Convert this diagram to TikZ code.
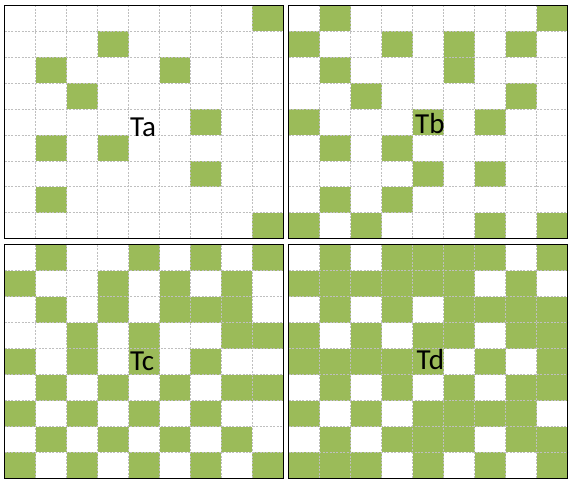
\documentclass[tikz,border=0pt]{standalone}
\usepackage{fontspec}
\setmainfont{Carlito}
\definecolor{cellgreen}{HTML}{9BBB59}
\definecolor{gridgray}{HTML}{BFBFBF}
\tikzset{
  cellfill/.style={fill=cellgreen},
  gridline/.style={draw=gridgray, line width=0.9pt, dash pattern=on 2pt off 1.4pt},
  panelframe/.style={draw=black, line width=1.3pt},
  panellabel/.style={anchor=base west, inner sep=0pt, font=\fontsize{29}{29}\selectfont, text=black}
}
\newcommand\drawpanel[3]{%
  \foreach \r/\cols in {#3} {
    \foreach \c in \cols {
      \fill[cellfill] ({#1+\c*30.98},{#2+\r*25.96}) rectangle ++(30.98,25.96);
    }
  }
  \foreach \i in {1,...,8} {
    \draw[gridline] ({#1+\i*30.98},#2) -- ++(0,233.6);
    \draw[gridline] (#1,{#2+\i*25.96}) -- ++(278.8,0);
  }
  \draw[panelframe] (#1,#2) rectangle ++(278.8,233.6);
}
\begin{document}
\begin{tikzpicture}[x=1pt,y=-1pt]
\fill[white] (0,0) rectangle (571,481);
\useasboundingbox (0,0) rectangle (571,481);
% Ta
\drawpanel{4.6}{5.2}{0/{8},1/{3},2/{1,5},3/{2},4/{6},5/{1,3},6/{6},7/{1},8/{8}}
% Tb
\drawpanel{288.8}{5.2}{0/{1,8},1/{0,3,5,7},2/{1,5},3/{2,7},4/{0,4,6},5/{1,3},6/{4,6},7/{1,3},8/{0,2,6,8}}
% Tc
\drawpanel{4.6}{244.8}{0/{1,4,6,8},1/{0,3,5,7},2/{1,3,5,6,7},3/{2,4,7,8},4/{0,2,4,6},5/{1,3,5,7,8},6/{0,2,4,6},7/{1,3,5,7},8/{0,2,4,6,8}}
% Td
\drawpanel{288.8}{244.8}{0/{1,3,4,5,6,8},1/{0,1,2,3,4,5,7},2/{1,3,5,6,7,8},3/{0,2,4,5,7,8},4/{0,1,2,3,4,6,8},5/{1,3,5,7,8},6/{0,2,4,5,6,7},7/{1,3,4,5,7,8},8/{0,1,2,4,6,8}}
\node[panellabel] (ta) at (130,136.5) {Ta};
\node[panellabel] (tb) at (415,133.5) {Tb};
\node[panellabel] (tc) at (130,370.5) {Tc};
\node[panellabel] (td) at (416.5,369.5) {Td};
\end{tikzpicture}
\end{document}
